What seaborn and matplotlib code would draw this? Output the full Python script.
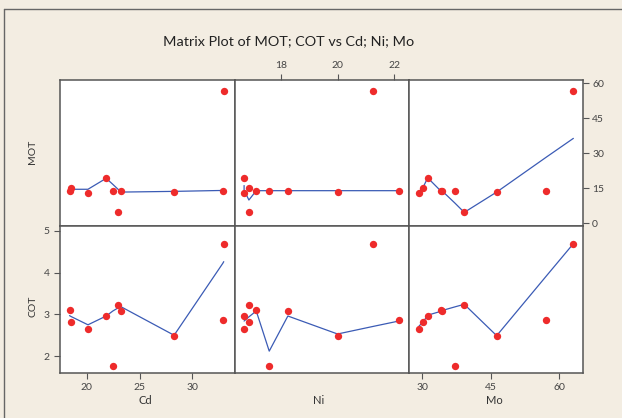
import numpy as np
import pandas as pd
import matplotlib
matplotlib.use("Agg")
import matplotlib.pyplot as plt
import seaborn as sns

# ---- data ----
cd = [18.35, 18.48, 20.10, 21.83, 22.46, 22.93, 23.25, 28.27, 32.98, 32.89]
ni = [17.12, 16.86, 16.69, 16.69, 17.58, 16.86, 18.24, 20.00, 21.25, 22.17]
mo = [34.0, 30.2, 29.3, 31.2, 37.2, 39.2, 34.3, 46.3, 63.1, 57.2]
mot = [14.0, 15.3, 13.1, 19.5, 14.0, 4.7, 14.0, 13.4, 56.6, 14.0]
cot = [3.11, 2.82, 2.64, 2.97, 1.76, 3.23, 3.08, 2.49, 4.69, 2.87]

fit_mot_cd = [14.6, 14.6, 14.6, 19.3, 16.7, 14.7, 13.4, 13.7, 14.1, 14.1]
fit_mot_ni = [14.0, 10.0, 14.2, 16.2, 14.0, 10.0, 14.0, 14.0, 14.0, 14.0]
fit_mot_mo = [14.0, 15.5, 13.5, 19.5, 8.6, 4.7, 14.0, 13.4, 36.4, 28.4]
fit_cot_cd = [2.97, 2.95, 2.75, 2.96, 3.08, 3.15, 3.18, 2.50, 4.26, 4.22]
fit_cot_ni = [3.08, 2.94, 2.84, 2.84, 2.12, 2.94, 2.96, 2.53, 2.71, 2.84]
fit_cot_mo = [3.07, 2.82, 2.72, 2.98, 3.18, 3.24, 3.09, 2.49, 4.69, 3.92]

cd_ticks = [20, 25, 30]
ni_ticks = [18, 20, 22]
mo_ticks = [30, 45, 60]
mot_ticks = [0, 15, 30, 45, 60]
cot_ticks = [2, 3, 4, 5]

title = "Matrix Plot of MOT; COT vs Cd; Ni; Mo"

df = pd.DataFrame({"Cd": cd, "Ni": ni, "Mo": mo, "MOT": mot, "COT": cot})
fits = {
    ("MOT", "Cd"): fit_mot_cd, ("MOT", "Ni"): fit_mot_ni, ("MOT", "Mo"): fit_mot_mo,
    ("COT", "Cd"): fit_cot_cd, ("COT", "Ni"): fit_cot_ni, ("COT", "Mo"): fit_cot_mo,
}

sns.set_theme(style="white")
plt.rcParams["font.family"] = ["Lato", "DejaVu Sans"]

W, H = 622, 418
BG = "#F3EDE2"
fig = plt.figure(figsize=(W / 100, H / 100), dpi=100, facecolor=BG)

# frame line around the figure (top and left visible)
fig.add_artist(plt.Line2D([4 / W, 1], [1 - 9 / H, 1 - 9 / H], color="#666666", lw=1.0))
fig.add_artist(plt.Line2D([4 / W, 4 / W], [0, 1 - 9 / H], color="#666666", lw=1.0))

col_edges = [59.5, 234.5, 409.0, 582.5]
row_edges = [80.0, 225.7, 373.3]
xlims = {"Cd": (17.4, 34.0), "Ni": (16.35, 22.53), "Mo": (27.1, 65.1)}
ylims = {"MOT": (-1.0, 61.4), "COT": (1.59, 5.12)}
xvars = ["Cd", "Ni", "Mo"]
yvars = ["MOT", "COT"]

RED = "#EE2B2B"
BLUE = "#3B5BB5"
TICKC = "#444444"

for r, yv in enumerate(yvars):
    for c, xv in enumerate(xvars):
        x0, x1 = col_edges[c], col_edges[c + 1]
        y0, y1 = row_edges[r], row_edges[r + 1]
        ax = fig.add_axes([x0 / W, 1 - y1 / H, (x1 - x0) / W, (y1 - y0) / H])
        ax.set_facecolor("white")
        line_df = pd.DataFrame({"x": df[xv], "y": fits[(yv, xv)]})
        order = np.lexsort((-line_df["y"].values, line_df["x"].values))
        line_df = line_df.iloc[order]
        sns.lineplot(data=line_df, x="x", y="y", sort=False, estimator=None,
                     color=BLUE, lw=0.9, ax=ax, zorder=2)
        sns.scatterplot(data=df, x=xv, y=yv, color=RED, s=28, linewidth=0,
                        ax=ax, zorder=3)
        ax.set_xlim(*xlims[xv])
        ax.set_ylim(*ylims[yv])
        ax.set_xlabel("")
        ax.set_ylabel("")
        for s in ax.spines.values():
            s.set_color("#555555")
            s.set_linewidth(1.1)
        ax.tick_params(axis="both", which="both", length=4, width=0.8, color="#555555",
                       labelsize=7.5, labelcolor=TICKC, pad=3, direction="out")
        ax.set_xticks([])
        ax.set_yticks([])
        if r == 1 and xv == "Cd":
            ax.set_xticks(cd_ticks)
            ax.set_yticks(cot_ticks)
            ax.tick_params(left=True, bottom=True)
        if r == 1 and xv == "Mo":
            ax.set_xticks(mo_ticks)
            ax.tick_params(bottom=True)
        if r == 0 and xv == "Ni":
            ax.set_xticks(ni_ticks)
            ax.xaxis.tick_top()
            ax.tick_params(top=True, bottom=False)
        if r == 0 and xv == "Mo":
            ax.set_yticks(mot_ticks)
            ax.yaxis.tick_right()
            ax.tick_params(right=True, left=False)

fig.text(289 / W, 1 - 41 / H, title, ha="center", va="center", fontsize=10.4,
         color="#222222")
fig.text(33 / W, 1 - 152 / H, "MOT", rotation=90, ha="center", va="center", fontsize=7.5, color="#333333")
fig.text(33 / W, 1 - 306 / H, "COT", rotation=90, ha="center", va="center", fontsize=7.5, color="#333333")
fig.text(145 / W, 1 - 401 / H, "Cd", ha="center", va="center", fontsize=8, color="#333333")
fig.text(319 / W, 1 - 401 / H, "Ni", ha="center", va="center", fontsize=8, color="#333333")
fig.text(494 / W, 1 - 401 / H, "Mo", ha="center", va="center", fontsize=8, color="#333333")

fig.savefig("out.png", dpi=100, facecolor=BG)
